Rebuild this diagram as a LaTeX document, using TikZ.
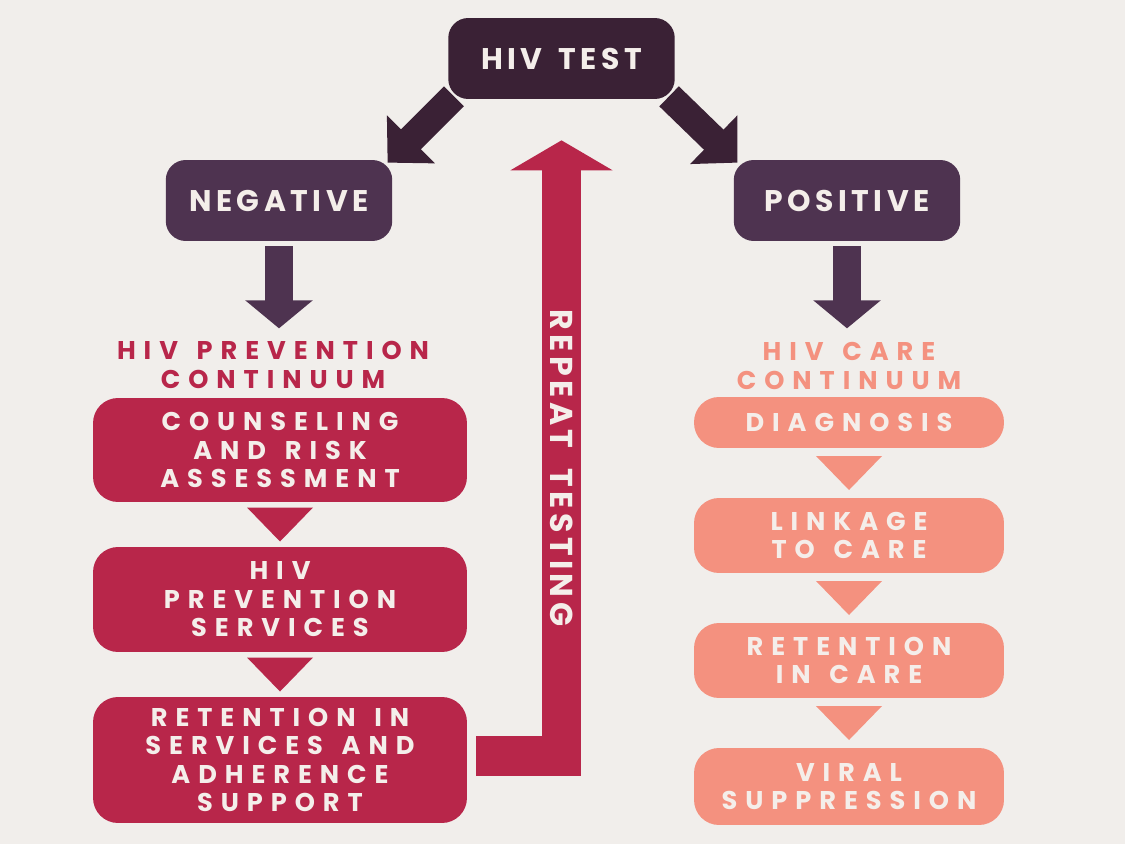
\documentclass[tikz,border=0pt]{standalone}
\usepackage{fontspec}
\usetikzlibrary{calc}
\usetikzlibrary{arrows.meta}
\newfontfamily\boxfont[LetterSpace=31, WordSpace=1.4]{Poppins}
\newfontfamily\titlefont[LetterSpace=15, WordSpace=1.5]{Poppins}
\newfontfamily\repfont[LetterSpace=14, WordSpace=1.8]{Poppins}
\definecolor{bgcol}{HTML}{F1EEEB}
\definecolor{testcol}{HTML}{3A2135}
\definecolor{resultcol}{HTML}{4E3350}
\definecolor{prevcol}{HTML}{B8264A}
\definecolor{carecol}{HTML}{F4917F}
\definecolor{txtcol}{HTML}{F4EEEA}

\begin{document}
\begin{tikzpicture}[x=0.02cm, y=-0.02cm,
    titlebox/.style={fill=#1, rounded corners=0.4cm, text=txtcol, minimum width=4.53cm, minimum height=1.62cm, inner sep=0, font=\titlefont\bfseries\fontsize{17}{20}\selectfont},
    stagebox/.style={fill=#1, rounded corners=0.5cm, text=txtcol, align=center, inner sep=0, font=\boxfont\bfseries\fontsize{14.6}{16.2}\selectfont},
    headline/.style={text=#1, align=center, inner sep=0, font=\boxfont\bfseries\fontsize{14.6}{16.2}\selectfont},
    blockarr/.style={line width=0.56cm, -{Triangle[length=#1 0 0, width=1.32cm 0 0]}},
    testing/.style={prevcol, line width=0.79cm, line join=miter, -{Triangle[length=0.6cm 0 0, width=2.02cm 0 0]}}]
    \fill[bgcol] (0,0) rectangle (1125,844);

    \node[titlebox=testcol] (test) at (561.5,58.5) {HIV TEST};
    \node[titlebox=resultcol] (neg) at (279,200.5) {NEGATIVE};
    \node[titlebox=resultcol] (pos) at (847,200.5) {POSITIVE};

    \node[headline=prevcol] (prevhead) at (273,365) {HIV PREVENTION\\CONTINUUM};
    \node[headline=carecol] (carehead) at (849,366) {HIV CARE\\CONTINUUM};

    \node[stagebox=prevcol, minimum width=7.48cm, minimum height=2.08cm] (p1) at (280,450) {COUNSELING\\AND RISK\\ASSESSMENT};
    \node[stagebox=prevcol, minimum width=7.48cm, minimum height=2.1cm] (p2) at (280,599.5) {HIV\\PREVENTION\\SERVICES};
    \node[stagebox=prevcol, minimum width=7.48cm, minimum height=2.52cm] (p3) at (280,760) {RETENTION IN\\SERVICES AND\\ADHERENCE\\SUPPORT};

    \node[stagebox=carecol, minimum width=6.2cm, minimum height=1.02cm] (c1) at (849,422.5) {DIAGNOSIS};
    \node[stagebox=carecol, minimum width=6.2cm, minimum height=1.5cm] (c2) at (849,535.5) {LINKAGE\\TO CARE};
    \node[stagebox=carecol, minimum width=6.2cm, minimum height=1.5cm] (c3) at (849,660.5) {RETENTION\\IN CARE};
    \node[stagebox=carecol, minimum width=6.2cm, minimum height=1.54cm] (c4) at (849,786.5) {VIRAL\\SUPPRESSION};

    \foreach \a/\b/\c in {p1/p2/prevcol, p2/p3/prevcol, c1/c2/carecol, c2/c3/carecol, c3/c4/carecol} {
      \fill[\c] ($(\a.south)!.5!(\b.north)$) ++(-33,-17) -- ++(66,0) -- ++(-33,34) -- cycle;
    }

    \draw[blockarr=0.66cm, testcol] ($(test.south west)+(6,-3)$) -- ($(neg.north east)+(-5,3)$);
    \draw[blockarr=0.66cm, testcol] ($(test.south east)+(-6,-3)$) -- ($(pos.north west)+(4,3)$);
    \foreach \n in {neg,pos} {
      \draw[blockarr=0.56cm, resultcol] ($(\n.south)+(0,5)$) -- ($(\n.south)+(0,87)$);
    }

    \draw[testing] ($(p3.east)+(9,-4)$) -| ($(test.south)+(0,41)$);
    \node[rotate=-90, text=txtcol, inner sep=0, font=\repfont\bfseries\fontsize{18}{20}\selectfont] (rep) at (562,468) {REPEAT TESTING};
\end{tikzpicture}
\end{document}
